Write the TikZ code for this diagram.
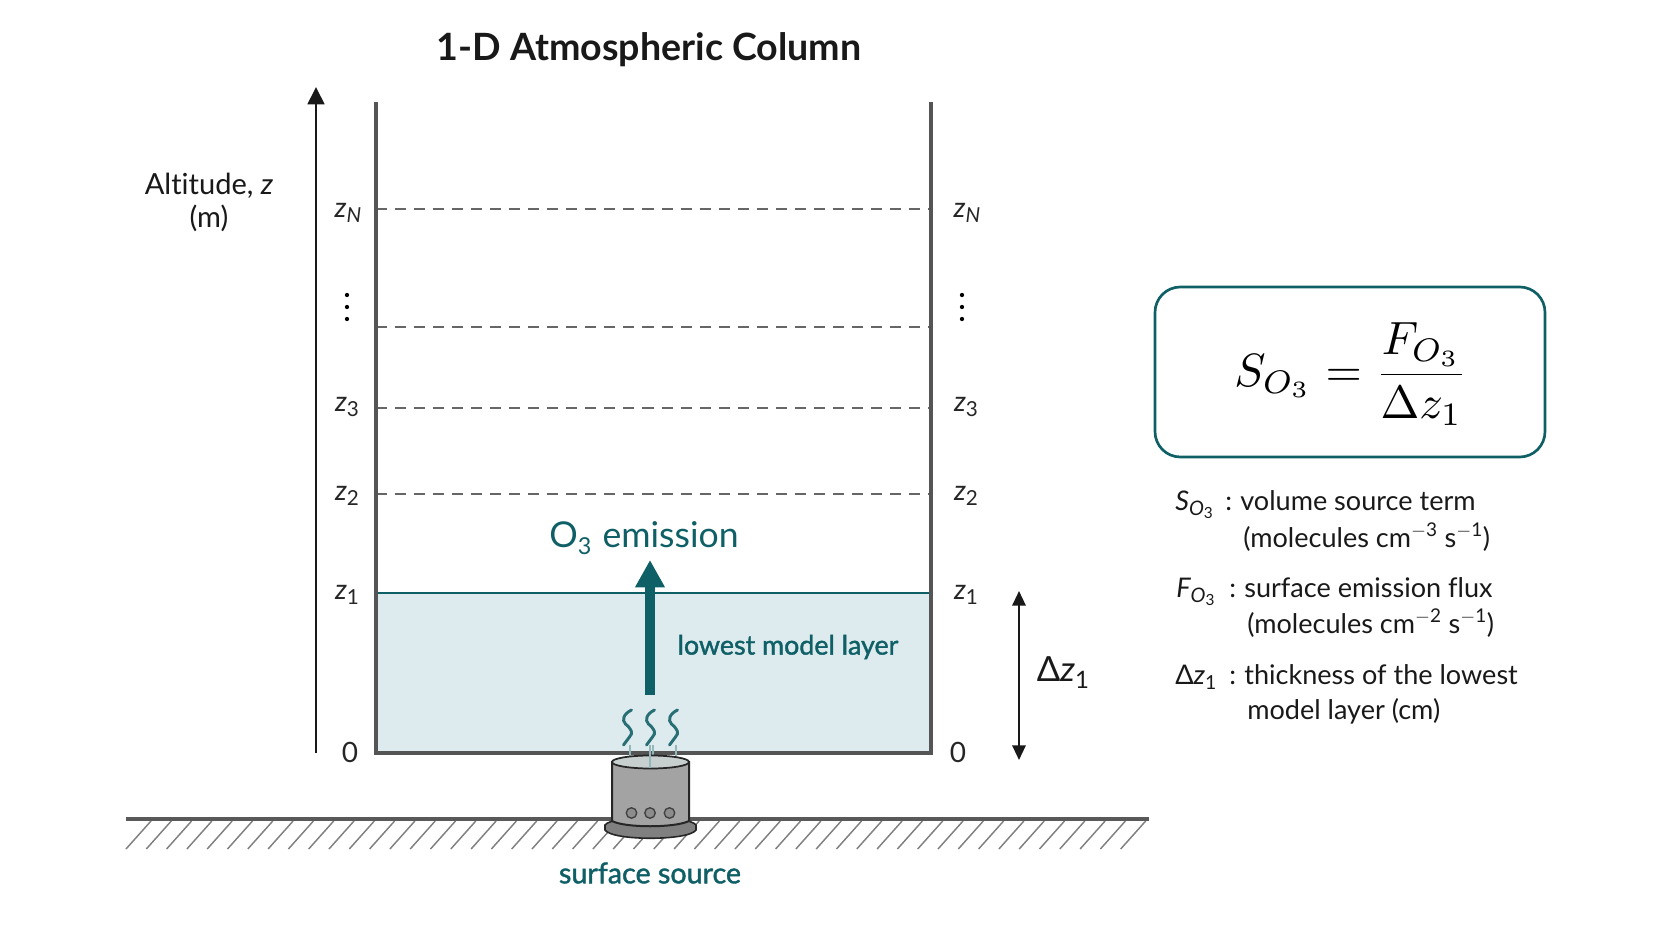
\documentclass[tikz,border=0pt]{standalone}
\usepackage{fontspec}
\setmainfont[Ligatures=NoCommon]{Lato}
\newfontfamily\medfont[FakeBold=1.5,Ligatures=NoCommon]{Lato}
\usetikzlibrary{arrows.meta}
\definecolor{teal1}{HTML}{0F5F66}
\definecolor{layer}{HTML}{DDEBEE}
\definecolor{wall}{HTML}{555555}
\definecolor{dashc}{HTML}{666666}
\definecolor{canbody}{HTML}{A3A3A3}
\definecolor{cantop}{HTML}{C8CFCF}
\definecolor{canbase}{HTML}{808080}
\newcommand{\vv}[2]{{\itshape #1}\raisebox{-0.32ex}{\fontsize{15.5}{15}\selectfont #2}}
\newcommand{\vO}[1]{{\itshape #1}\raisebox{-0.42ex}{\fontsize{15}{15}\selectfont\itshape O\raisebox{-0.3ex}{\fontsize{11.5}{11}\selectfont\upshape 3}}}
\newcommand{\vD}{Δ{\itshape z}\raisebox{-0.42ex}{\fontsize{14.5}{14}\selectfont 1}}
\newcommand{\cln}{:\hspace{6.2pt}}
\tikzset{
  txt/.style={inner sep=0pt,font=\fontsize{21.8}{24}\selectfont,text=black!90},
  lvl/.style={inner sep=0pt,font=\fontsize{21}{22}\selectfont,text=black!85},
  legend/.style={inner sep=0pt,anchor=base west,font=\fontsize{20.3}{24}\selectfont,text=black!90},
  wallline/.style={draw=wall,line width=3pt},
  lvldash/.style={draw=dashc,line width=2pt,dash pattern=on 8.3pt off 6pt},
  dotmark/.style={circle,fill=black,inner sep=0pt,minimum size=3.2pt},
  hatchline/.style={draw=black!50,line width=1.1pt},
  wisp/.style={draw=teal1!90,line width=2.2pt,line cap=round},
  wispfade/.style={draw=teal1!45,line width=1.5pt},
}
\begin{document}
\begin{tikzpicture}[x=0.75pt,y=-0.75pt]
\useasboundingbox (0,0) rectangle (1672,941);
% column coordinates
\coordinate (LT) at (375.5,102); \coordinate (RT) at (931,102);
\coordinate (LB) at (375.5,753); \coordinate (RB) at (931,753);
\coordinate (L1) at (375.5,593); \coordinate (R1) at (931,593);
\coordinate (L2) at (375.5,494); \coordinate (R2) at (931,494);
\coordinate (L3) at (375.5,408); \coordinate (R3) at (931,408);
\coordinate (L4) at (375.5,327); \coordinate (R4) at (931,327);
\coordinate (LN) at (375.5,209); \coordinate (RN) at (931,209);
\fill[layer] (L1) rectangle (RB);
% title
\node[inner sep=0pt,font=\fontsize{28.2}{32}\selectfont\bfseries,text=black!90] (title) at (649,50) {1-D Atmospheric Column};
% altitude axis
\coordinate (A0) at (316,753); \coordinate (A1) at (316,87);
\draw[black!90,line width=2pt,-{Triangle[length=13pt,width=12.5pt]}] (A0) -- (A1);
\node[txt] (alt) at (209,186) {Altitude, {\itshape z}};
\node[txt] (altu) at (209,218) {(m)};
% levels
\draw[lvldash] (L2) -- (R2);
\draw[lvldash] (L3) -- (R3);
\draw[lvldash] (L4) -- (R4);
\draw[lvldash] (LN) -- (RN);
\draw[draw=teal1,line width=2.2pt] (L1) -- (R1);
\draw[wallline] (LT) -- (LB) -- (RB) -- (RT);
% level labels
\node[lvl] (zNl) at (348,213) {\vv{z}{\itshape N}};
\node[lvl] (zNr) at (967,213) {\vv{z}{\itshape N}};
\node[lvl] (z3l) at (347,407) {\vv{z}{3}};
\node[lvl] (z3r) at (966,407) {\vv{z}{3}};
\node[lvl] (z2l) at (347,496) {\vv{z}{2}};
\node[lvl] (z2r) at (966,496) {\vv{z}{2}};
\node[lvl] (z1l) at (347,595) {\vv{z}{1}};
\node[lvl] (z1r) at (966,595) {\vv{z}{1}};
\node[lvl,font=\fontsize{21}{24}\selectfont] (zero1) at (350,752) {0};
\node[lvl,font=\fontsize{21}{24}\selectfont] (zero2) at (958,752) {0};
\foreach \n/\x in {a/347,b/962} \foreach \y in {295,307,319}
  \node[dotmark] (dot\n\y) at (\x,\y) {};
% emission arrow
\coordinate (E0) at (650,695); \coordinate (E1) at (650,560);
\draw[teal1,line width=7.5pt,-{Triangle[length=20.5pt,width=21pt]}] (E0) -- (E1);
\node[inner sep=0pt,font=\fontsize{26.7}{30}\selectfont,text=teal1] (em) at (644,538) {O\raisebox{-0.35ex}{\fontsize{17.5}{18}\selectfont 3}\kern1.5pt\ emission};
\node[inner sep=0pt,font=\medfont\fontsize{20.1}{24}\selectfont,text=teal1] (low) at (788,647) {lowest model layer};
% wisps
\foreach \x in {-20.5,2.5,25.5} {
  \draw[wispfade] (650+\x,745) -- (650+\x,763);
  \draw[wisp] (652+\x,710) .. controls (644+\x,714) and (642+\x,720) .. (646+\x,724)
     .. controls (652+\x,729) and (654+\x,733) .. (650+\x,737)
     .. controls (648+\x,740) and (646+\x,742) .. (644+\x,745);
}
% ground
\coordinate (G0) at (126,819); \coordinate (G1) at (1149,819);
\foreach \x in {126,146.3,...,1128}
  \draw[hatchline] (\x,849) -- (\x+25,821);
\draw[draw=black!65,line width=2.6pt] (G0) -- (G1);
% source can
\draw[black!85,line width=1.2pt,fill=canbase] (605,825) -- (605,830) .. controls (612,841) and (689,841) .. (696,830) -- (696,825) .. controls (689,815) and (612,815) .. (605,825) -- cycle;
\draw[black!85,line width=1.5pt,fill=canbody] (612,762) -- (612,821) .. controls (625,828) and (675,828) .. (689,821) -- (689,762) -- cycle;
\draw[black!85,line width=1.3pt,fill=cantop] (650.5,762) ellipse[x radius=38.5,y radius=6.5];
\foreach \x [count=\i] in {631.5,650,669.5}
  \node[circle,draw=black!75,line width=1pt,fill=black!45,inner sep=0pt,minimum size=10.5pt*0.75] (hole\i) at (\x,813) {};
\draw[wispfade] (650,745) -- (650,768);
\node[inner sep=0pt,font=\medfont\fontsize{21.5}{24}\selectfont,text=teal1] (src) at (650,873) {surface source};
% delta z
\coordinate (D0) at (1019,591); \coordinate (D1) at (1019,760);
\draw[black!90,line width=1.6pt,{Triangle[length=11pt,width=10pt]}-{Triangle[length=11pt,width=10pt]}] (D0) -- (D1);
\node[inner sep=0pt,font=\fontsize{26}{30}\selectfont,text=black!90] (dz) at (1063,673) {Δ{\itshape z}\raisebox{-0.4ex}{\fontsize{18}{20}\selectfont 1}};
% equation box
\draw[teal1,line width=2pt,rounded corners=19pt] (1155,287) rectangle (1545,457);
\node[inner sep=0pt,font=\normalsize,scale=3.5] (eq) at (1351,374) {$\displaystyle S_{O_3}\kern0.15pt=\kern0.05pt\frac{F_{O_3}}{\Delta z_1}$};
% legend
\node[legend] (l1s) at (1175,510) {\vO{S}};
\node[legend] (l1c) at (1225,510) {\cln volume source term};
\node[legend] (l2) at (1243,547) {(molecules cm\textsuperscript{$-$3} s\textsuperscript{$-$1})};
\node[legend] (l3s) at (1176,597) {\vO{F}};
\node[legend] (l3c) at (1229,597) {\cln surface emission flux};
\node[legend] (l4) at (1247,633) {(molecules cm\textsuperscript{$-$2} s\textsuperscript{$-$1})};
\node[legend] (l5s) at (1175,684) {\vD};
\node[legend] (l5c) at (1229,684) {\cln thickness of the lowest};
\node[legend] (l6) at (1247,719) {model layer (cm)};
\end{tikzpicture}
\end{document}
